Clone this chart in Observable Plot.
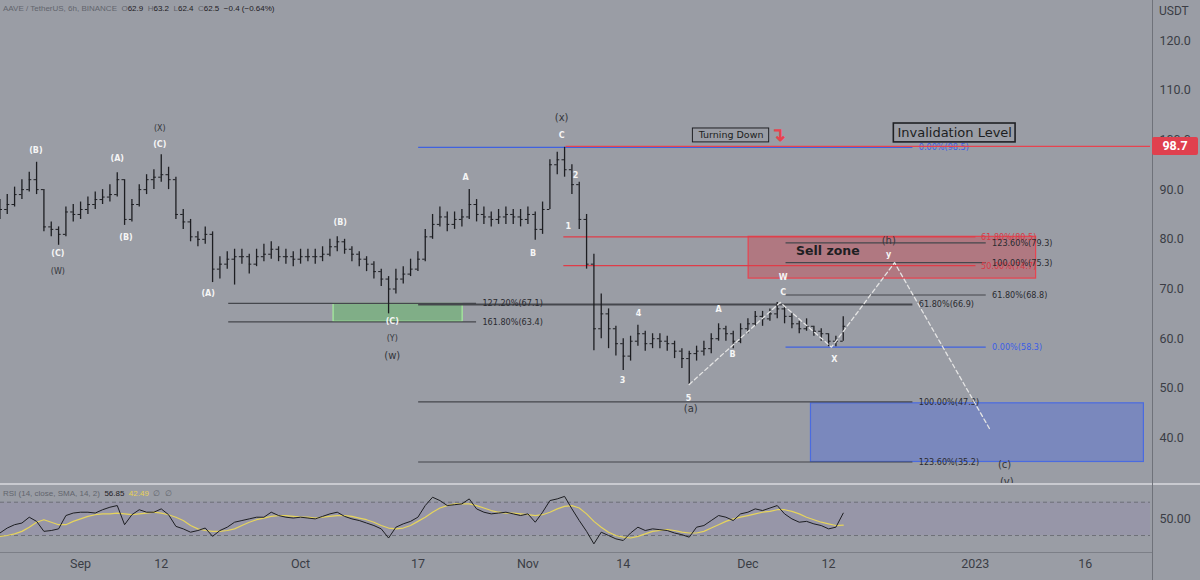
<!DOCTYPE html>
<html><head><meta charset="utf-8">
<script src="https://cdn.jsdelivr.net/npm/d3@7"></script>
<script src="https://cdn.jsdelivr.net/npm/@observablehq/plot@0.6"></script>
<style>
html,body{margin:0;padding:0;background:#9a9da5;}
#wrap{position:relative;width:1200px;height:580px;background:#9a9da5;overflow:hidden;font-family:Roboto,"DejaVu Sans",sans-serif;}
#main{position:absolute;left:0;top:0;}
#rsi{position:absolute;left:0;top:483px;}
#hdr{position:absolute;left:3px;top:4px;font-size:8px;color:#62656d;white-space:pre;font-family:"Liberation Sans",Arial,sans-serif;}
#hdr .v{color:#1f2024;}
#rhdr{position:absolute;left:3px;top:489px;font-size:8px;color:#62656d;white-space:pre;font-family:"Liberation Sans",Arial,sans-serif;}
#rhdr .v{color:#1f2024;} #rhdr .y{color:#e8d255;}
#usdt{position:absolute;left:1159px;top:4px;font-size:12px;color:#3b3d45;}
#vsep{position:absolute;left:1152px;top:0;width:1px;height:580px;background:#6f727a;}
#hsep{position:absolute;left:0;top:483px;width:1200px;height:2px;background:#c9cad0;}
#bsep{position:absolute;left:0;top:552px;width:1152px;height:1px;background:#7c7f87;}
#tag{position:absolute;left:1152px;width:46px;height:18px;background:#e0404e;color:#fff;font-weight:bold;font-size:12.5px;line-height:18px;text-align:center;border-radius:2px;}
</style></head>
<body><div id="wrap"></div>
<script>
// ---------- data ----------
const startUTC = Date.UTC(2022,7,21); // day index 0
const closes = [86,87,89,90,92,90,82.5,82,81,85.5,85,86,87,88,88.5,89,92,84,87,90,92,92.5,93,92,85,83.5,80.5,80,81,74,75,76,76.5,76.5,75,76.5,77,78,76.5,76.5,76,76.5,76.5,76.5,77,78.5,79.5,78,77,76,75,73.5,72,70,72,73,74,76,80.5,83,84.5,83,84,84.5,87,85,84.5,84,84.5,85,84.5,84,85,82,86,95,96,94,91,84,75,62,65,62,59,56.5,59.5,61,59,60,59.5,59,57.5,56,57,57.5,58,60,62,61,59.5,62,63,64.5,64,65,66,64.5,63,62,62.5,61.5,61,59.5,59.5,62.5];
const highs  = [88,89,90.5,92,93.5,95.5,90,83.5,82.5,86.5,87,87.5,88.5,89.5,90,91,93.4,92,88,91,93,94,97,94.5,92.5,86,84,81.5,82.5,81.5,76.5,77.5,78,78,77,78,79,79.5,78.5,78,77.5,78,78,78,78.5,80,80.5,80,78.5,77.5,76.5,75.5,74,72.5,74,74.5,76,77.5,82,85,86.5,85.5,85.5,86,90,88,86.5,85.5,86,86.5,86,86,86.5,85.5,87.5,96,97.5,98.5,95,91.5,85,77,69,66,62.5,60,60.5,62.7,61.5,61,61,60.5,59.5,58,57.5,58.5,59.5,61,63,62.5,61.5,63,64,65.5,65.5,66,67.3,66.5,65,63.5,64,62.5,62,61,60.5,64.4];
const lows   = [84,85,86.5,88,89.5,89,81.5,80.5,78.8,80.5,83.5,84,85,86,87,87.5,88.5,82.8,83.5,86.5,89,90,91.5,90,84,82,79.5,78.5,79,71.3,72,74,70.8,75,73,74.5,75.5,76,75.5,75,74.5,75,75.5,75,75.5,76.5,77.5,77,75.5,74.5,73.5,72,70.5,65,69,71,72.5,73.5,75.5,80,82.5,81.5,82,82.5,84,83.5,83,82.5,83,83,83,82.5,83,79.8,81,86,93,92.5,89,82,74,57.6,60,58,56.5,53.6,55.5,58.5,57.5,58,58,57.5,56,54,50.8,55.5,56.5,57,59.5,59.5,58,59,61,62.5,62.5,63.5,64,63,62,61,61.5,60.5,59.5,58.4,58.4,59.5];
const rsiVals = [33,39,43,45,52,47,35,36,38,54,57,58,58,57,61,64,66,43,55,61,58,58,62,55,41,38,34,36,39,29,36,40,46,48,50,52,52,58,54,52,51,52,51,50,53,56,58,53,50,48,45,42,38,27,40,44,47,52,66,76,72,66,67,68,74,62,58,56,57,58,56,54,56,46,58,72,74,77,62,48,35,20,34,30,26,24,33,40,36,38,37,36,33,31,28,40,42,48,54,52,48,56,58,62,60,63,66,56,50,46,47,44,42,38,40,56.85];
const smaVals = [29,30,32,35,40,46,49,46,43,43,47,50,53,55,56,56,57,56,55,56,57,58,57,55,52,48,42,38,36,35,35,36,38,42,46,49,51,53,54,54,53,52,52,51,52,53,54,54,53,51,49,46,42,39,38,39,42,47,52,58,63,66,68,68,68,66,63,60,58,57,57,56,55,54,55,58,62,65,66,63,56,47,40,34,30,28,27,29,32,35,36,37,36,34,33,33,35,39,43,47,50,52,54,56,58,59,61,61,59,56,52,49,46,44,42,42.49];
const priceTicks = [40,50,60,70,80,90,100,110,120];
const tickDays = ["2022-09-01","2022-09-12","2022-10-01","2022-10-17","2022-11-01","2022-11-14","2022-12-01","2022-12-12","2023-01-01","2023-01-16"];
const tickNames = ["Sep","12","Oct","17","Nov","14","Dec","12","2023","16"];
const invalidation = 98.7;
// fib groups: [label, price]; spans are day indices
const fibLeft   = [["127.20%(67.1)",67.1],["161.80%(63.4)",63.4]];
const fibMid    = [["61.80%(66.9)",66.9],["100.00%(47.3)",47.3],["123.60%(35.2)",35.2]];
const fibMidTop = [["0.00%(98.5)",98.5]];
const fibRed    = [["61.80%(80.5)",80.5],["50.00%(74.7)",74.7]];
const fibRight  = [["123.60%(79.3)",79.3],["100.00%(75.3)",75.3],["61.80%(68.8)",68.8]];
const fibRightBlue = [["0.00%(58.3)",58.3]];
const zones = [ // [day1, day2, p1, p2, kind]
  [102.1,141.3,72.1,80.5,"sell"],
  [110.6,156.0,35.2,47.0,"target"],
  [45.5,63.1,63.4,67.0,"green"]
];
const projection = [[94,50.8],[106.4,67.3],[113.4,58.3],[122,75.3],[135.1,41.5]];
const whiteLabels = [["(B)",4.9,97.9],["(C)",7.9,77.1],["(A)",16,96.3],["(B)",17.2,80.4],["(C)",21.8,99.1],["(A)",28.4,69.1],["(B)",46.4,83.4],["(C)",53.5,63.5],["A",63.5,92.4],["B",72.7,77.1],["C",76.6,100.9],["2",78.5,92.8],["1",77.5,82.6],["3",84.9,51.6],["4",87.1,65.1],["5",93.9,48.0],["A",98,65.9],["B",99.9,56.8],["W",106.8,72.3],["C",106.8,69.3],["X",113.8,55.8],["y",121.2,76.9]];
const darkSmall = [["(W)",7.9,73.5],["(X)",21.8,102.3],["(Y)",53.5,60.0]];
const darkLarge = [["(w)",53.5,56.6],["(x)",76.6,104.5],["(a)",94.2,45.8],["(h)",121.2,79.8],["(c)",137,34.7],["(v)",137.3,31.3]];
const boxes = [["Turning Down",94.5,104.9,99.5,102.3,9.5],["Invalidation Level",121.9,138.5,99.5,103.3,13]];

// ---------- build ----------
const day = i => new Date(startUTC + i*864e5);
const xDomain = [day(0.08), day(156.9)];
const bars = closes.map((c,i)=>({date:day(i), open: i?closes[i-1]:85, close:c, high:highs[i], low:lows[i]}));
const rsi = rsiVals.map((v,i)=>({date:day(i), v, s:smaVals[i]}));
const fib = (arr,i1,i2,lx,group)=>arr.map(([label,price])=>({label,price,i1,i2,lx,group}));
const fibs = [...fib(fibLeft,31.2,65,65.8,"gray"),...fib(fibMid,57.1,124.5,125.3,"gray"),...fib(fibMidTop,57.1,124.5,125.3,"blue"),
  ...fib(fibRed,76.9,133.1,133.8,"red"),...fib(fibRight,107.2,134.5,135.3,"gray"),...fib(fibRightBlue,107.2,134.5,135.3,"blue")];
const zoneFill = {sell:"rgba(214,60,72,0.38)",target:"rgba(75,105,225,0.40)",green:"rgba(90,200,90,0.40)"};
const zoneStroke = {sell:"#e8434f",target:"#4a6be0",green:"#a6ef9e"};
const fibStroke = {gray:"#45474d",blue:"#3f62e0",red:"#df3c48"};
const fibText = {gray:"#2a2b30",blue:"#3a5de6",red:"#d83a46"};
const fibWidth = d => d.label==="61.80%(66.9)" ? 2 : 1.2;
const narrow = "'Liberation Sans Narrow', 'DejaVu Sans Condensed', sans-serif";

const main = Plot.plot({
  width:1200, height:483, marginLeft:0, marginRight:50, marginTop:0, marginBottom:0,
  style:{background:"transparent", color:"#3b3d45", fontFamily:"Roboto, sans-serif", fontSize:"12.5px"},
  x:{type:"utc", domain:xDomain, axis:null},
  y:{domain:[30.87,128.05], ticks:priceTicks, tickFormat:d=>d.toFixed(1), tickSize:0, tickPadding:9, axis:"right", label:null},
  marks:[
    Plot.rect(zones,{x1:d=>day(d[0]),x2:d=>day(d[1]),y1:d=>d[2],y2:d=>d[3],fill:d=>zoneFill[d[4]],stroke:d=>zoneStroke[d[4]],strokeWidth:1.2,strokeDasharray:d=>d[4]==="green"?"3,1":null}),
    Plot.ruleY(fibs,{y:"price",x1:d=>day(d.i1),x2:d=>day(d.i2),stroke:d=>fibStroke[d.group],strokeWidth:fibWidth,strokeDasharray:d=>d.group==="red"?"5,2":(d.label==="61.80%(68.8)"?"2,1":null)}),
    Plot.text(fibs,{x:d=>day(d.lx),y:"price",text:"label",textAnchor:"start",fontSize:9,fill:d=>fibText[d.group],fontFamily:narrow}),
    Plot.ruleX(bars,{x:"date",y1:"low",y2:"high",stroke:"#1d1e22",strokeWidth:1.3}),
    Plot.ruleY(bars,{y:"open",x1:d=>new Date(+d.date-0.35*864e5),x2:"date",stroke:"#1d1e22",strokeWidth:1}),
    Plot.ruleY(bars,{y:"close",x1:"date",x2:d=>new Date(+d.date+0.35*864e5),stroke:"#1d1e22",strokeWidth:1}),
    Plot.line(projection,{x:d=>day(d[0]),y:d=>d[1],stroke:"#e4e4e4",strokeWidth:1.3,strokeDasharray:"4,3"}),
    Plot.ruleY([invalidation],{x1:day(77.2),x2:xDomain[1],stroke:"#e8434f",strokeWidth:1.2}),
    Plot.rect(boxes,{x1:d=>day(d[1]),x2:d=>day(d[2]),y1:d=>d[3],y2:d=>d[4],fill:"none",stroke:"#1f2024",strokeWidth:d=>d[5]>10?1.6:1}),
    Plot.text(boxes,{x:d=>day((d[1]+d[2])/2),y:d=>(d[3]+d[4])/2,text:d=>d[0],fontSize:d=>d[5],fill:"#1c1d21",fontFamily:"DejaVu Sans, sans-serif",fontWeight:d=>d[5]>10?"normal":"bold"}),
    Plot.text(["↴"],{x:day(106.1),y:101,fill:"#e8434f",fontSize:19,fontWeight:"bold"}),
    Plot.text(["Sell zone"],{x:day(112.9),y:77.7,fill:"#1e1f23",fontSize:12.5,fontWeight:"bold",fontFamily:"DejaVu Sans, sans-serif"}),
    Plot.text(whiteLabels,{x:d=>day(d[1]),y:d=>d[2],text:d=>d[0],fill:"#f5f5f5",fontSize:8,fontWeight:"bold",fontFamily:"DejaVu Sans, sans-serif"}),
    Plot.text(darkSmall,{x:d=>day(d[1]),y:d=>d[2],text:d=>d[0],fill:"#34363b",fontSize:8,fontFamily:"DejaVu Sans, sans-serif"}),
    Plot.text(darkLarge,{x:d=>day(d[1]),y:d=>d[2],text:d=>d[0],fill:"#34363b",fontSize:10,fontFamily:"DejaVu Sans, sans-serif"})
  ]
});
main.id="main";

const tickMap = new Map(tickDays.map((d,i)=>[+new Date(d+"T00:00Z"), tickNames[i]]));
const rsiChart = Plot.plot({
  width:1200, height:97, marginLeft:0, marginRight:50, marginTop:1, marginBottom:28,
  style:{background:"transparent", color:"#3b3d45", fontFamily:"Roboto, sans-serif", fontSize:"12.5px"},
  x:{type:"utc", domain:xDomain, ticks:tickDays.map(d=>new Date(d+"T00:00Z")), tickFormat:d=>tickMap.get(+d), tickSize:0, tickPadding:7, label:null},
  y:{domain:[9.6,91.3], ticks:[50], tickFormat:d=>d.toFixed(2), tickSize:0, tickPadding:9, axis:"right", label:null},
  marks:[
    Plot.rect([0],{x1:xDomain[0],x2:xDomain[1],y1:30,y2:70,fill:"rgba(126,87,194,0.10)"}),
    Plot.ruleY([70,30],{stroke:"#6e7078",strokeDasharray:"4,3",strokeWidth:1}),
    Plot.line(rsi,{x:"date",y:"s",stroke:"#e6d45c",strokeWidth:1.2}),
    Plot.line(rsi,{x:"date",y:"v",stroke:"#1d1e22",strokeWidth:1})
  ]
});
rsiChart.id="rsi";

const wrap = document.getElementById("wrap");
wrap.appendChild(main);
wrap.appendChild(rsiChart);
const add = (id, html) => { const d=document.createElement("div"); d.id=id; if(html) d.innerHTML=html; wrap.appendChild(d); return d; };
add("hsep"); add("bsep"); add("vsep");
add("hdr",'AAVE / TetherUS, 6h, BINANCE  O<span class="v">62.9</span>  H<span class="v">63.2</span>  L<span class="v">62.4</span>  C<span class="v">62.5</span>  <span class="v">−0.4 (−0.64%)</span>');
add("rhdr",'RSI (14, close, SMA, 14, 2)  <span class="v">' + rsiVals[rsiVals.length-1].toFixed(2) + '</span>  <span class="y">' + smaVals[smaVals.length-1].toFixed(2) + '</span>  ∅  ∅');
add("usdt","USDT");
const tag = add("tag", invalidation.toFixed(1));
tag.style.top = (main.scale("y").apply(invalidation) - 9) + "px";
</script></body></html>
